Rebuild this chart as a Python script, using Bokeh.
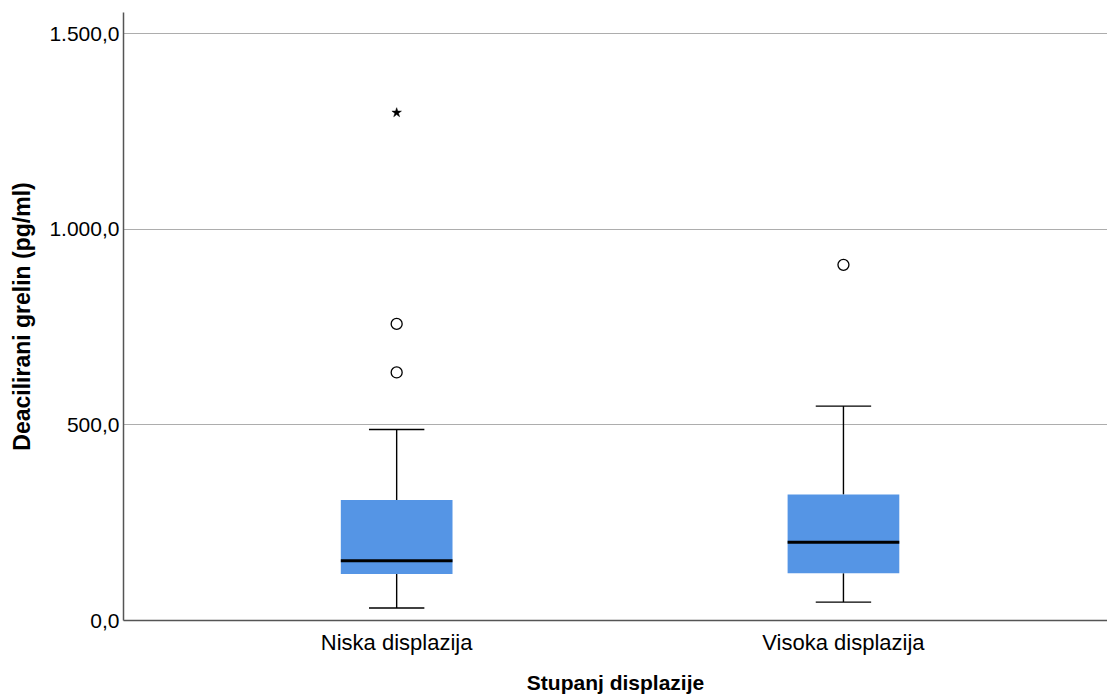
from bokeh.plotting import figure
from bokeh.models import FixedTicker, ColumnDataSource
from bokeh.embed import file_html
from bokeh.resources import INLINE

categories = ["Niska displazija", "Visoka displazija"]
positions = [1, 2]
q1 = [119, 121]
median = [153, 200]
q3 = [308, 322]
lower = [32, 47]
upper = [488, 548]
outlier_x = [1, 1, 2]
outlier_y = [758, 634, 909]
extreme_x = [1]
extreme_y = [1298]
y_ticks = [0, 500, 1000, 1500]
y_tick_labels = ["0,0", "500,0", "1.000,0", "1.500,0"]

FONT = "Liberation Sans"
BOX_W = 0.25
CAP_W = 0.124

p = figure(width=1107, height=696, output_backend="svg", toolbar_location=None,
           x_range=(0.3886, 2.591), y_range=(0, 1554),
           min_border_left=123, min_border_right=0, min_border_top=12, min_border_bottom=76)
p.outline_line_color = None
p.background_fill_color = "white"
p.border_fill_color = "white"

src = ColumnDataSource(dict(x=positions, q1=q1, med=median, q3=q3, lo=lower, hi=upper,
                            cl=[x - CAP_W / 2 for x in positions], cr=[x + CAP_W / 2 for x in positions],
                            bl=[x - BOX_W / 2 for x in positions], br=[x + BOX_W / 2 for x in positions]))

# whiskers
p.segment(x0="x", y0="q3", x1="x", y1="hi", source=src, line_color="black", line_width=1.4)
p.segment(x0="x", y0="lo", x1="x", y1="q1", source=src, line_color="black", line_width=1.4)
p.segment(x0="cl", y0="hi", x1="cr", y1="hi", source=src, line_color="black", line_width=1.4)
p.segment(x0="cl", y0="lo", x1="cr", y1="lo", source=src, line_color="black", line_width=1.4)
# boxes
p.vbar(x="x", width=BOX_W, bottom="q1", top="q3", source=src, fill_color="#5595e5", line_color=None)
# medians
p.segment(x0="bl", y0="med", x1="br", y1="med", source=src, line_color="black", line_width=3)
# outliers
p.scatter(outlier_x, outlier_y, marker="circle", size=11, fill_color="white", line_color="black", line_width=1.3)
p.scatter(extreme_x, extreme_y, marker="star", size=10, fill_color="black", line_color="black", line_width=0.5)

p.xgrid.grid_line_color = None
p.ygrid.ticker = FixedTicker(ticks=y_ticks)
p.ygrid.grid_line_color = "#adadad"
p.ygrid.grid_line_width = 1.2

p.yaxis.ticker = FixedTicker(ticks=y_ticks)
p.yaxis.major_label_overrides = dict(zip(y_ticks, y_tick_labels))
p.xaxis.ticker = FixedTicker(ticks=positions)
p.xaxis.major_label_overrides = dict(zip(positions, categories))

for ax in (p.xaxis, p.yaxis):
    ax.axis_line_color = "#555555"
    ax.axis_line_width = 1.5
    ax.major_tick_line_color = None
    ax.minor_tick_line_color = None
    ax.major_tick_out = 0
    ax.major_tick_in = 0
    ax.major_label_text_font = FONT
    ax.major_label_text_color = "black"
    ax.axis_label_text_font = FONT
    ax.axis_label_text_font_style = "bold"
    ax.axis_label_text_color = "black"

p.yaxis.major_label_text_font_size = "21px"
p.xaxis.major_label_text_font_size = "22px"
p.yaxis.axis_label_text_font_size = "23px"
p.xaxis.axis_label_text_font_size = "21px"

p.yaxis.axis_label = "Deacilirani grelin (pg/ml)"
p.xaxis.axis_label = "Stupanj displazije"
p.yaxis.major_label_standoff = 4
p.xaxis.major_label_standoff = 9
p.yaxis.axis_label_standoff = 11
p.xaxis.axis_label_standoff = 13

open("out.html", "w").write(file_html(p, INLINE))
